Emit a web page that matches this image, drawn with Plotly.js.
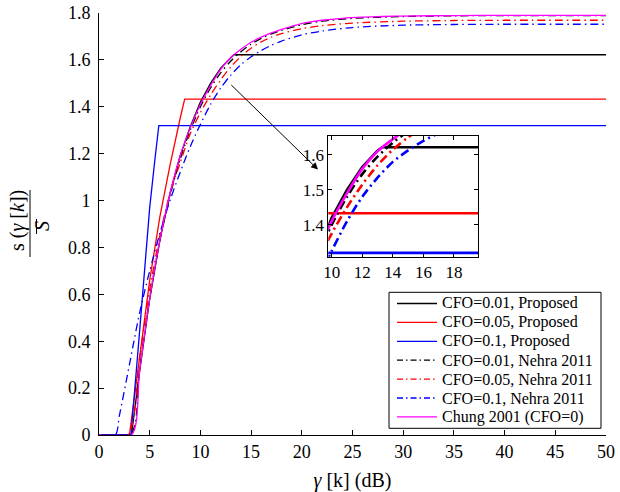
<!DOCTYPE html>
<html>
<head>
<meta charset="utf-8">
<script src="https://cdn.plot.ly/plotly-3.0.1.min.js"></script>
<style>html,body{margin:0;padding:0;background:#fff;}#chart{width:620px;height:492px;}</style>
</head>
<body>
<div id="chart"></div>
<script>
// ---- data ----
const seriesNames = [
  "CFO=0.01, Proposed",
  "CFO=0.05, Proposed",
  "CFO=0.1, Proposed",
  "CFO=0.01, Nehra 2011",
  "CFO=0.05, Nehra 2011",
  "CFO=0.1, Nehra 2011",
  "Chung 2001 (CFO=0)"
];

const prop001X = [0, 3.2, 4, 5, 6, 7, 8, 9, 10, 11, 12, 13, 13.3, 50];
const prop001Y = [0, 0, 0.27, 0.58, 0.83, 1.03, 1.19, 1.315, 1.42, 1.50, 1.565, 1.612, 1.622, 1.622];

const prop005X = [0, 3.0, 4, 5, 6, 7, 8, 8.45, 50];
const prop005Y = [0, 0, 0.33, 0.66, 0.93, 1.15, 1.35, 1.433, 1.433];

const prop01X = [0, 3.15, 4, 5, 5.5, 5.9, 50];
const prop01Y = [0, 0, 0.44, 0.97, 1.17, 1.32, 1.32];

const nehra001X = [0, 3.1, 4, 5, 6, 7, 8, 9, 10, 11, 12, 13, 14, 15, 16, 17, 18, 20, 22, 25, 30, 35, 40, 50];
const nehra001Y = [0, 0, 0.28, 0.585, 0.83, 1.02, 1.175, 1.30, 1.40, 1.48, 1.545, 1.595, 1.635, 1.667, 1.692, 1.711, 1.726, 1.75, 1.765, 1.777, 1.785, 1.788, 1.789, 1.789];

const nehra005X = [0, 2.8, 4, 5, 6, 7, 8, 9, 10, 11, 12, 13, 14, 15, 16, 17, 18, 20, 22, 25, 30, 35, 40, 50];
const nehra005Y = [0, 0, 0.33, 0.62, 0.85, 1.03, 1.16, 1.285, 1.375, 1.45, 1.515, 1.57, 1.615, 1.65, 1.677, 1.697, 1.712, 1.733, 1.746, 1.757, 1.765, 1.768, 1.769, 1.769];

const nehra01X = [0, 1.6, 2, 3, 4, 5, 6, 7, 8, 9, 10, 11, 12, 13, 14, 15, 16, 17, 18, 20, 22, 25, 30, 35, 40, 50];
const nehra01Y = [0, 0, 0.08, 0.30, 0.52, 0.70, 0.86, 1.0, 1.12, 1.23, 1.325, 1.41, 1.48, 1.535, 1.58, 1.613, 1.64, 1.662, 1.68, 1.707, 1.723, 1.738, 1.748, 1.751, 1.752, 1.752];

const chungX = [0, 3.2, 4, 5, 6, 7, 8, 9, 10, 11, 12, 13, 14, 15, 16, 17, 18, 19, 20, 21, 22, 24, 26, 28, 30, 35, 40, 50];
const chungY = [0, 0, 0.27, 0.58, 0.83, 1.03, 1.19, 1.31, 1.41, 1.49, 1.56, 1.61, 1.645, 1.675, 1.697, 1.715, 1.73, 1.743, 1.755, 1.763, 1.769, 1.777, 1.782, 1.785, 1.787, 1.789, 1.79, 1.79];

const mainXTicks = [0, 5, 10, 15, 20, 25, 30, 35, 40, 45, 50];
const mainYTicks = [0, 0.2, 0.4, 0.6, 0.8, 1, 1.2, 1.4, 1.6, 1.8];
const insetXTicks = [10, 12, 14, 16, 18];
const insetYTicks = [1.4, 1.5, 1.6];

// ---- styling / layout geometry (pixels) ----
const W = 620, H = 492;
const M = {l: 99, r: 14, t: 13, b: 57};
const plotW = W - M.l - M.r, plotH = H - M.t - M.b;
const pxX = px => (px - M.l) / plotW;           // page px -> paper x
const pxY = py => (H - M.b - py) / plotH;       // page px -> paper y

const serif = "'Liberation Serif', 'Times New Roman', Times, serif";
const colors = ["#000000", "#ff0000", "#0000ff", "#000000", "#ff0000", "#0000ff", "#ff00ff"];
const dd = "8px,4px,1.5px,4px";
const ddInset = "9px,4px,2px,4px";
const dashes = ["solid", "solid", "solid", dd, dd, dd, "solid"];
const dashesInset = ["solid", "solid", "solid", ddInset, ddInset, ddInset, "solid"];
const shapesK = ["linear", "linear", "linear", "spline", "spline", "spline", "spline"];
const xs = [prop001X, prop005X, prop01X, nehra001X, nehra005X, nehra01X, chungX];
const ys = [prop001Y, prop005Y, prop01Y, nehra001Y, nehra005Y, nehra01Y, chungY];

const traces = [];
for (let i = 0; i < xs.length; i++) {
  traces.push({
    type: "scatter", mode: "lines", x: xs[i], y: ys[i], name: seriesNames[i], showlegend: false,
    line: {color: colors[i], width: 1.3, dash: dashes[i], shape: shapesK[i], smoothing: 0.8},
    xaxis: "x", yaxis: "y", hoverinfo: "skip"
  });
}
for (let i = 0; i < xs.length; i++) {
  traces.push({
    type: "scatter", mode: "lines", x: xs[i], y: ys[i], name: seriesNames[i], showlegend: false,
    line: {color: colors[i], width: 2.6, dash: dashesInset[i], shape: shapesK[i], smoothing: 0.8},
    xaxis: "x2", yaxis: "y2", hoverinfo: "skip"
  });
}

const axisCommon = {
  ticks: "inside", ticklen: 5, tickwidth: 1, tickcolor: "#000",
  showline: true, linecolor: "#000", linewidth: 1,
  showgrid: false, zeroline: false,
  tickfont: {family: serif, size: 18, color: "#000"}
};

// custom legend (box, samples, labels)
const legBox = {x0: 389, x1: 601, y0: 292.3, y1: 428.3};
const legRow0 = 303.5, legStep = 18.9, legLine0 = 397, legLine1 = 437, legText = 440;
const shapes = [
  {type: "line", xref: "paper", yref: "paper", x0: pxX(30), x1: pxX(30), y0: pxY(257), y1: pxY(190), line: {color: "#000", width: 1}},
  {type: "line", xref: "paper", yref: "paper", x0: pxX(36.5), x1: pxX(36.5), y0: pxY(234), y1: pxY(219), line: {color: "#000", width: 1}},
  {type: "rect", xref: "paper", yref: "paper", x0: pxX(legBox.x0), x1: pxX(legBox.x1), y0: pxY(legBox.y1), y1: pxY(legBox.y0),
   fillcolor: "#fff", line: {color: "#000", width: 1}}
];
const annotations = [
  {
    xref: "x", yref: "y", axref: "x", ayref: "y",
    x: 21.6, y: 1.132, ax: 12.9, ay: 1.499,
    text: "", showarrow: true, arrowhead: 2, arrowsize: 1.4, arrowwidth: 1, arrowcolor: "#000"
  },
  {
    xref: "paper", yref: "paper", x: pxX(17), y: pxY(221),
    xanchor: "center", yanchor: "middle", textangle: -90, showarrow: false,
    text: "s (<i>γ</i> [<i>k</i>])", font: {family: serif, size: 20, color: "#000"}
  },
  {
    xref: "paper", yref: "paper", x: pxX(41.5), y: pxY(226.5),
    xanchor: "center", yanchor: "middle", textangle: -90, showarrow: false,
    text: "<i>S</i>", font: {family: serif, size: 20, color: "#000"}
  }
];
for (let i = 0; i < seriesNames.length; i++) {
  const ry = legRow0 + i * legStep;
  shapes.push({type: "line", xref: "paper", yref: "paper", x0: pxX(legLine0), x1: pxX(legLine1), y0: pxY(ry), y1: pxY(ry),
    line: {color: colors[i], width: 1.3, dash: dashes[i] === "solid" ? "solid" : "6px,3px,1.5px,3px"}});
  annotations.push({xref: "paper", yref: "paper", x: pxX(legText), y: pxY(ry), xanchor: "left", yanchor: "middle",
    showarrow: false, text: seriesNames[i], font: {family: serif, size: 16, color: "#000"}});
}

const layout = {
  width: W, height: H,
  margin: {l: M.l, r: M.r, t: M.t, b: M.b, pad: 0},
  paper_bgcolor: "#fff", plot_bgcolor: "#fff",
  font: {family: serif, color: "#000"},
  showlegend: false,
  xaxis: Object.assign({}, axisCommon, {
    range: [0, 50], tickvals: mainXTicks, ticktext: mainXTicks.map(String),
    domain: [0, 1], anchor: "y", layer: "below traces",
    title: {text: "<i>γ</i> [k] (dB)", font: {family: serif, size: 20, color: "#000"}, standoff: 13}
  }),
  yaxis: Object.assign({}, axisCommon, {
    range: [0, 1.8], tickvals: mainYTicks, ticktext: mainYTicks.map(String),
    domain: [0, 1], anchor: "x", ticklabelstandoff: 4, layer: "below traces"
  }),
  xaxis2: Object.assign({}, axisCommon, {
    range: [9.78, 19.59], tickvals: insetXTicks, ticktext: insetXTicks.map(String),
    domain: [pxX(328.3), pxX(478.3)], anchor: "y2", mirror: "ticks", ticklen: 4,
    tickfont: {family: serif, size: 17, color: "#000"}
  }),
  yaxis2: Object.assign({}, axisCommon, {
    range: [1.309, 1.654], tickvals: insetYTicks, ticktext: insetYTicks.map(String),
    domain: [pxY(256.7), pxY(136)], anchor: "x2", mirror: "ticks", ticklen: 4,
    tickfont: {family: serif, size: 17, color: "#000"}
  }),
  annotations: annotations,
  shapes: shapes
};

Plotly.newPlot("chart", traces, layout, {staticPlot: true, displayModeBar: false});
</script>
</body>
</html>
